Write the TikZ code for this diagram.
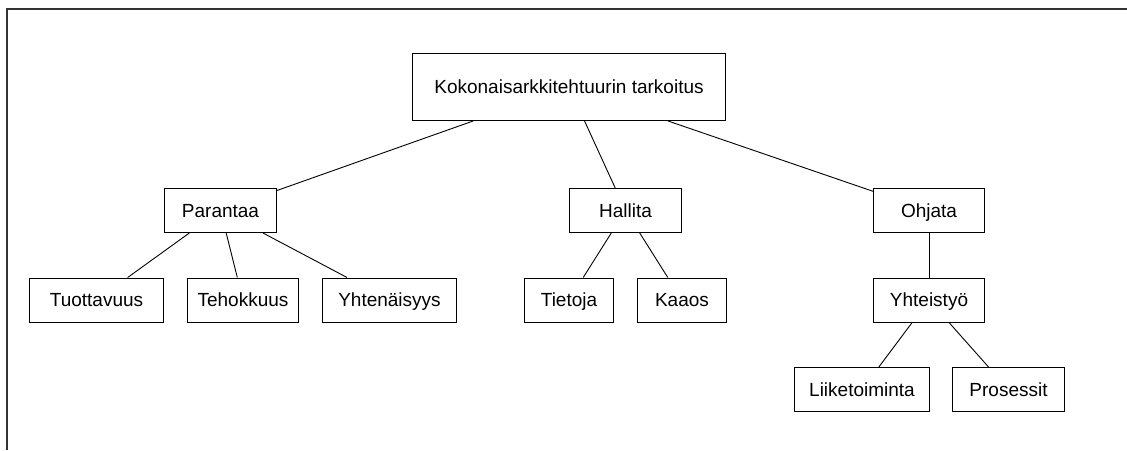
\documentclass[tikz,border=0pt]{standalone}
\usepackage{fontspec}
\setmainfont{Liberation Sans}
\begin{document}
\begin{tikzpicture}[x=1pt,y=-1pt,
  box/.style={draw=black,line width=1pt,rectangle,inner sep=0pt,
    minimum height=44pt,text height=13.6pt,text depth=0pt,
    font=\fontsize{19}{22}\selectfont},
  link/.style={draw=black,line width=0.9pt}]
\useasboundingbox (0,0) rectangle (1127,450);
% open frame along the left and top
\draw[line width=2pt,black!80] (6.5,450) -- (6.5,9) -- (1127,9);

\node[box,minimum width=313pt,minimum height=67pt] (root) at (569,87) {Kokonaisarkkitehtuurin tarkoitus};

\node[box,minimum width=112pt] (parantaa) at (220.5,210.5) {Parantaa};
\node[box,minimum width=112pt] (hallita) at (625.5,210.5) {Hallita};
\node[box,minimum width=111pt] (ohjata) at (929,210.5) {Ohjata};

\node[box,minimum width=134pt] (tuottavuus) at (96.5,300) {Tuottavuus};
\node[box,minimum width=111pt] (tehokkuus) at (243,300) {Tehokkuus};
\node[box,minimum width=134pt] (yhtenaisyys) at (389.5,300) {Yhtenäisyys};

\node[box,minimum width=89pt] (tietoja) at (569,300) {Tietoja};
\node[box,minimum width=89pt] (kaaos) at (682,300) {Kaaos};

\node[box,minimum width=111pt] (yhteistyo) at (929,300) {Yhteistyö};
\node[box,minimum width=135pt] (liiketoiminta) at (862,389.5) {Liiketoiminta};
\node[box,minimum width=112pt] (prosessit) at (1008.5,389.5) {Prosessit};

\draw[link] (root) -- (parantaa);
\draw[link] (root) -- (hallita);
\draw[link] (root) -- (ohjata);
\draw[link] (parantaa) -- (tuottavuus);
\draw[link] (parantaa) -- (tehokkuus);
\draw[link] (parantaa) -- (yhtenaisyys);
\draw[link] (hallita) -- (tietoja);
\draw[link] (hallita) -- (kaaos);
\draw[link] (ohjata) -- (yhteistyo);
\draw[link] (yhteistyo) -- (liiketoiminta);
\draw[link] (yhteistyo) -- (prosessit);
\end{tikzpicture}
\end{document}
